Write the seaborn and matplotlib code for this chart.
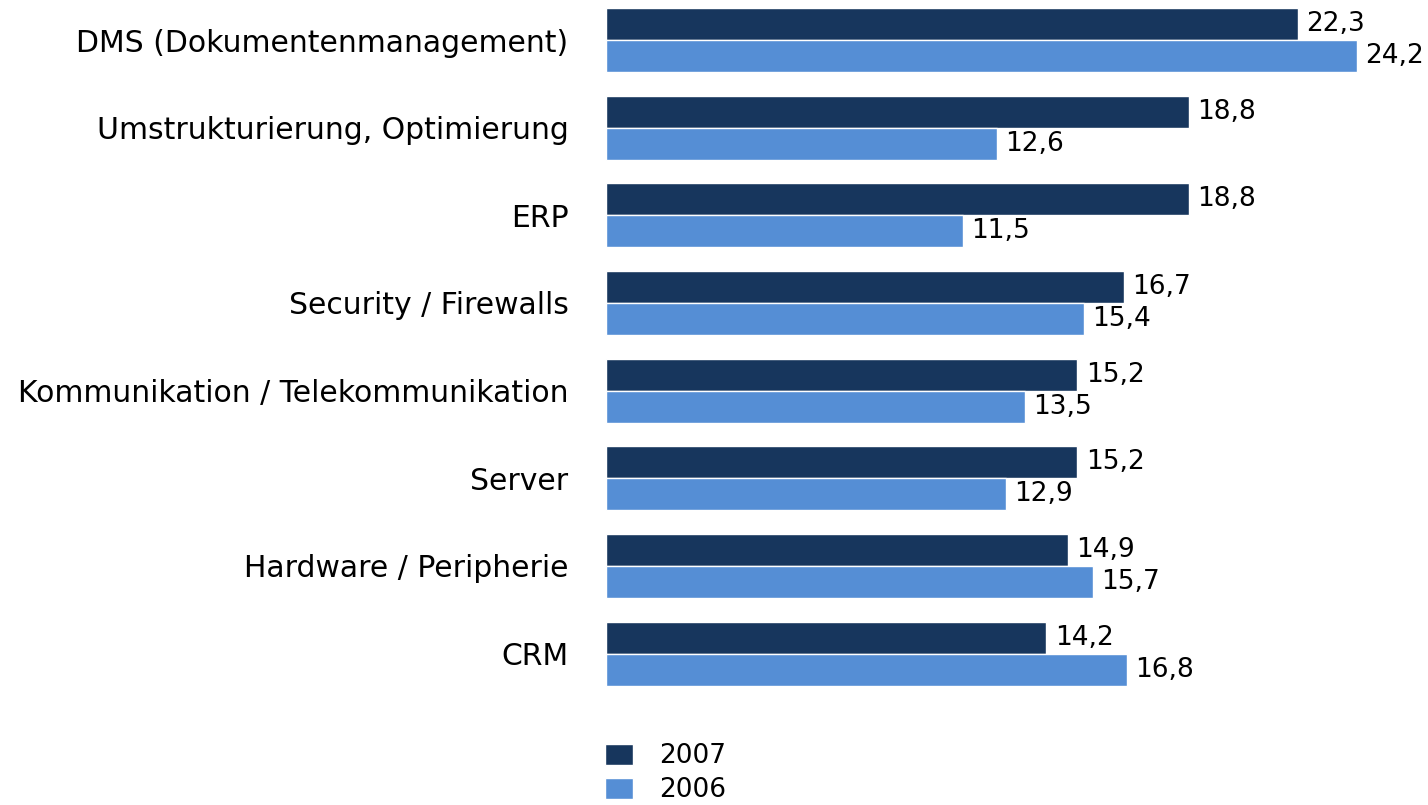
import matplotlib
matplotlib.use("Agg")
import matplotlib.pyplot as plt
import matplotlib.patches as mpatches
import seaborn as sns
import pandas as pd

# data
categories = [
    "DMS (Dokumentenmanagement)",
    "Umstrukturierung, Optimierung",
    "ERP",
    "Security / Firewalls",
    "Kommunikation / Telekommunikation",
    "Server",
    "Hardware / Peripherie",
    "CRM",
]
values_2007 = [22.3, 18.8, 18.8, 16.7, 15.2, 15.2, 14.9, 14.2]
values_2006 = [24.2, 12.6, 11.5, 15.4, 13.5, 12.9, 15.7, 16.8]
years = ["2007", "2006"]
colors = {"2007": "#17365D", "2006": "#558ED5"}

df = pd.DataFrame({"Kategorie": categories, "2007": values_2007, "2006": values_2006})
df = df.melt(id_vars="Kategorie", var_name="Jahr", value_name="Wert")

sns.set_style("white")
plt.rcParams["font.family"] = ["DejaVu Sans"]
plt.rcParams["text.color"] = "black"

W, H = 1428, 805
fig = plt.figure(figsize=(W / 100, H / 100), dpi=100)
ax = fig.add_axes([606 / W, 1 - 700 / H, (W - 606) / W, 700 / H])

sns.barplot(
    data=df, x="Wert", y="Kategorie", hue="Jahr", order=categories,
    hue_order=years, palette=colors, saturation=1, orient="h", width=0.73,
    edgecolor="white", linewidth=1, errorbar=None, legend=False, ax=ax,
)

for container in ax.containers:
    labels = [f"{v:.1f}".replace(".", ",") for v in container.datavalues]
    ax.bar_label(container, labels=labels, padding=6, fontsize=19, color="black")

ax.set_xlim(0, 26.5)
ax.set_ylim(7.53, -0.457)
ax.set_xlabel("")
ax.set_ylabel("")
ax.set_xticks([])
ax.tick_params(axis="y", length=0, pad=27, labelsize=21.5, labelcolor="black")
for spine in ax.spines.values():
    spine.set_visible(False)

handles = [mpatches.Patch(facecolor=colors[y], edgecolor="white", label=y) for y in years]
fig.legend(
    handles=handles, loc="upper left", bbox_to_anchor=(600 / W, 1 - 738 / H),
    frameon=False, fontsize=19, handlelength=1.05, handleheight=0.85,
    handletextpad=1.0, labelspacing=0.3, borderaxespad=0, borderpad=0.2,
)

fig.savefig("out.png", dpi=100)
